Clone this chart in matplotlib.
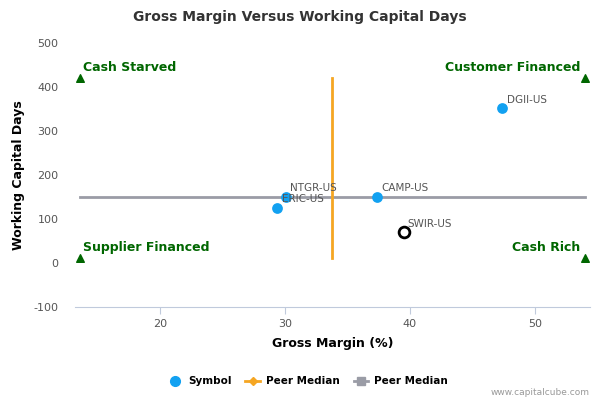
import matplotlib
matplotlib.use('Agg')
import matplotlib.pyplot as plt
from matplotlib.lines import Line2D

# --- データ ---
symbols = ['ERIC-US', 'NTGR-US', 'CAMP-US', 'DGII-US']
gross_margin = [29.4, 30.1, 37.4, 47.4]
wc_days = [125, 150, 150, 352]

focus_symbol = 'SWIR-US'
focus_margin = 39.5
focus_days = 70

peer_median_margin = 33.8
peer_median_days = 150

quadrant_names = ['Cash Starved', 'Supplier Financed', 'Customer Financed', 'Cash Rich']
quadrant_x = [13.6, 13.6, 54.0, 54.0]
quadrant_y = [420, 12, 420, 12]

x_ticks = [20, 30, 40, 50]
y_ticks = [-100, 0, 100, 200, 300, 400, 500]

plt.rcParams['font.family'] = 'DejaVu Sans'
plt.rcParams['axes.unicode_minus'] = False

fig = plt.figure(figsize=(6, 4), dpi=100)
ax = fig.add_axes([0.125, 0.2325, 0.858, 0.66])

blue = '#12a1f1'
orange = '#f5a623'
gray = '#9a9ca6'
green = '#006600'
tick_col = '#555555'

# ピア中央値ライン
ax.plot([quadrant_x[0], quadrant_x[2]], [peer_median_days, peer_median_days],
        color=gray, lw=2, zorder=1)
ax.plot([peer_median_margin, peer_median_margin], [quadrant_y[1], quadrant_y[0]],
        color=orange, lw=2, zorder=1)

# シンボル
ax.scatter(gross_margin, wc_days, s=60, color=blue, zorder=3, linewidths=0)
for name, x, y in zip(symbols, gross_margin, wc_days):
    ax.annotate(name, (x, y), xytext=(3, 4), textcoords='offset points',
                fontsize=7.5, color='#555555', zorder=4)

ax.scatter([focus_margin], [focus_days], s=60, facecolor='white',
           edgecolor='black', linewidths=2, zorder=3)
ax.annotate(focus_symbol, (focus_margin, focus_days), xytext=(3, 4),
            textcoords='offset points', fontsize=7.5, color='#555555', zorder=4)

# 象限ラベル
ax.scatter(quadrant_x, quadrant_y, marker='^', s=30, color=green, zorder=3)
for name, x, y in zip(quadrant_names, quadrant_x, quadrant_y):
    if x < 30:
        ax.annotate(name, (x, y), xytext=(2, 3), textcoords='offset points',
                    fontsize=9, fontweight='bold', color=green, ha='left', va='bottom')
    else:
        ax.annotate(name, (x, y), xytext=(-3, 3), textcoords='offset points',
                    fontsize=9, fontweight='bold', color=green, ha='right', va='bottom')

ax.set_xlim(13.2, 54.4)
ax.set_ylim(-100, 500)
ax.set_xticks(x_ticks)
ax.set_yticks(y_ticks)
ax.tick_params(axis='x', colors='#c0cadc', labelcolor=tick_col, labelsize=8, length=5)
ax.tick_params(axis='y', length=0, labelcolor=tick_col, labelsize=8, pad=12)
for s in ['top', 'right', 'left']:
    ax.spines[s].set_visible(False)
ax.spines['bottom'].set_color('#c0cadc')

ax.set_xlabel('Gross Margin (%)', fontsize=9, fontweight='bold', labelpad=6)
ax.set_ylabel('Working Capital Days', fontsize=9, fontweight='bold', labelpad=6)
fig.text(0.5, 0.957, 'Gross Margin Versus Working Capital Days', ha='center', va='center',
         fontsize=10, fontweight='bold', color='#333333')

handles = [
    Line2D([], [], marker='o', color=blue, ls='none', markersize=7),
    Line2D([], [], marker='D', color=orange, lw=2, markersize=4),
    Line2D([], [], marker='s', color=gray, lw=2, markersize=6),
]
fig.legend(handles, ['Symbol', 'Peer Median', 'Peer Median'], loc='center',
           bbox_to_anchor=(0.513, 0.047), ncol=3, frameon=False,
           prop={'weight': 'bold', 'size': 7.5}, handlelength=1.4,
           handletextpad=0.6, columnspacing=1.3)
fig.text(0.983, 0.018, 'www.capitalcube.com', ha='right', va='center',
         fontsize=6.5, color='#999999')

fig.savefig('out.png', dpi=100)
